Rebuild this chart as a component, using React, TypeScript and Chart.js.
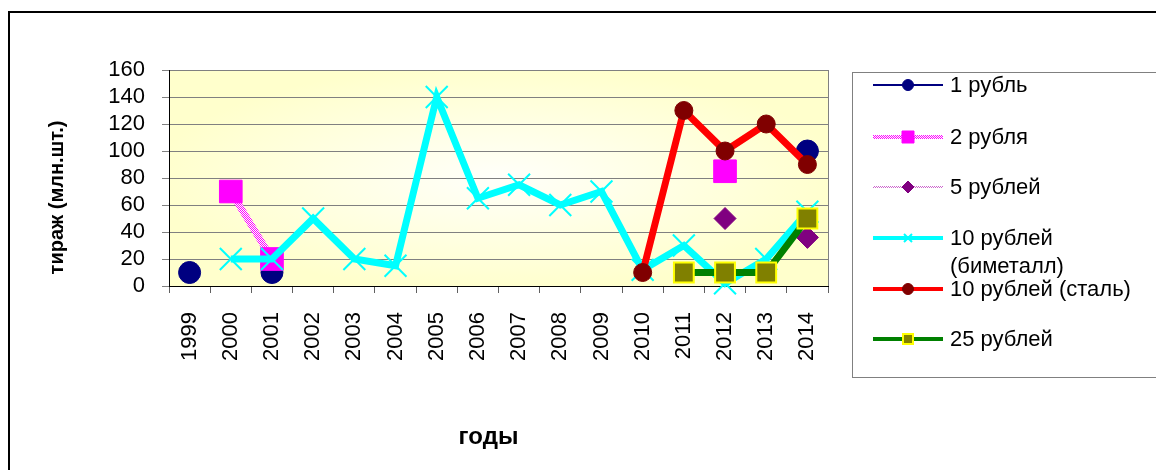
import React, { useEffect, useRef } from 'react';
import { Chart, registerables } from 'chart.js';

Chart.register(...registerables);

// ---------- data ----------
const years = ['1999', '2000', '2001', '2002', '2003', '2004', '2005', '2006', '2007', '2008', '2009', '2010', '2011', '2012', '2013', '2014'];
const rub1 = [10, null, 10, null, null, null, null, null, null, null, null, null, null, null, null, 100];
const rub2 = [null, 70, 20, null, null, null, null, null, null, null, null, null, null, 85, null, null];
const rub5 = [null, null, null, null, null, null, null, null, null, null, null, null, null, 50, null, 36];
const rub10bi = [null, 20, 20, 50, 20, 15, 140, 65, 75, 60, 70, 12, 30, 2, 20, 55];
const rub10st = [null, null, null, null, null, null, null, null, null, null, null, 10, 130, 100, 120, 90];
const rub25 = [null, null, null, null, null, null, null, null, null, null, null, null, 10, 10, 10, 50];
const seriesNames = ['1 рубль', '2 рубля', '5 рублей', '10 рублей (биметалл)', '10 рублей (сталь)', '25 рублей'];
const legendLines = [['1 рубль'], ['2 рубля'], ['5 рублей'], ['10 рублей', '(биметалл)'], ['10 рублей (сталь)'], ['25 рублей']];
const yMin = 0;
const yMax = 160;
const yStep = 20;
const xTitle = 'годы';
const yTitle = 'тираж (млн.шт.)';

const FONT = "'Liberation Sans', Arial, sans-serif";

function makePattern(a: string, b: string) {
  const c = document.createElement('canvas');
  c.width = 2;
  c.height = 2;
  const g = c.getContext('2d')!;
  g.fillStyle = a;
  g.fillRect(0, 0, 2, 2);
  g.fillStyle = b;
  g.fillRect(0, 0, 1, 1);
  g.fillRect(1, 1, 1, 1);
  return g.createPattern(c, 'repeat')!;
}

function drawMarker(ctx: CanvasRenderingContext2D, style: string, x: number, y: number, r: number, fill: string, stroke: string, lw: number) {
  ctx.save();
  ctx.fillStyle = fill;
  ctx.strokeStyle = stroke;
  ctx.lineWidth = lw;
  ctx.beginPath();
  if (style === 'circle') {
    ctx.arc(x, y, r, 0, Math.PI * 2);
    ctx.fill();
    ctx.stroke();
  } else if (style === 'rect') {
    ctx.rect(x - r, y - r, 2 * r, 2 * r);
    ctx.fill();
    ctx.stroke();
  } else if (style === 'rectRot') {
    ctx.moveTo(x - r, y);
    ctx.lineTo(x, y - r);
    ctx.lineTo(x + r, y);
    ctx.lineTo(x, y + r);
    ctx.closePath();
    ctx.fill();
    ctx.stroke();
  } else if (style === 'crossRot') {
    ctx.moveTo(x - r, y - r);
    ctx.lineTo(x + r, y + r);
    ctx.moveTo(x + r, y - r);
    ctx.lineTo(x - r, y + r);
    ctx.stroke();
  }
  ctx.restore();
}

export default function App() {
  const ref = useRef<HTMLCanvasElement>(null);

  useEffect(() => {
    const pinkPattern = makePattern('#FFFFFF', '#FF00FF');
    const purplePattern = makePattern('#FFFFFF', '#CC66CC');

    const legendStyle = [
      { line: '#000080', lw: 2, marker: 'circle', r: 5.5, fill: '#000080', stroke: '#000080', mlw: 1 },
      { line: pinkPattern as any, lw: 4, marker: 'rect', r: 6, fill: '#FF00FF', stroke: '#FF00FF', mlw: 1 },
      { line: purplePattern as any, lw: 2, marker: 'rectRot', r: 6, fill: '#800080', stroke: '#800080', mlw: 1 },
      { line: '#00FFFF', lw: 4, marker: 'crossRot', r: 4, fill: '#00FFFF', stroke: '#00FFFF', mlw: 2 },
      { line: '#FF0000', lw: 4, marker: 'circle', r: 5.5, fill: '#800000', stroke: '#800000', mlw: 1 },
      { line: '#008000', lw: 4, marker: 'rect', r: 5, fill: '#808000', stroke: '#FFFF00', mlw: 2 },
    ];

    const bgPlugin = {
      id: 'bg',
      beforeDraw(chart: any) {
        const { ctx, chartArea: a } = chart;
        ctx.save();
        ctx.fillStyle = '#FFFFFF';
        ctx.fillRect(0, 0, chart.width, chart.height);
        ctx.strokeStyle = '#000000';
        ctx.lineWidth = 2;
        ctx.strokeRect(9, 12, chart.width + 20, chart.height + 20);
        // plot area gradient
        const cx = (a.left + a.right) / 2;
        const cy = (a.top + a.bottom) / 2;
        ctx.translate(cx, cy);
        ctx.scale((a.right - a.left) / 2, (a.bottom - a.top) / 2);
        const g = ctx.createRadialGradient(0, 0, 0, 0, 0, 1.05);
        g.addColorStop(0, '#FFFFFA');
        g.addColorStop(1, '#FFFFCC');
        ctx.fillStyle = g;
        ctx.fillRect(-1, -1, 2, 2);
        ctx.restore();
      },
      beforeDatasetsDraw(chart: any) {
        const { ctx, chartArea: a } = chart;
        ctx.save();
        ctx.strokeStyle = '#808080';
        ctx.lineWidth = 1;
        ctx.beginPath();
        ctx.moveTo(Math.round(a.right) + 0.5, a.top);
        ctx.lineTo(Math.round(a.right) + 0.5, a.bottom);
        ctx.stroke();
        ctx.restore();
      },
      afterDraw(chart: any) {
        const { ctx } = chart;
        ctx.save();
        ctx.fillStyle = '#FFFFFF';
        ctx.strokeStyle = '#808080';
        ctx.lineWidth = 1;
        ctx.fillRect(852.5, 72.5, 400, 305);
        ctx.strokeRect(852.5, 72.5, 400, 305);
        const rows = [85, 137, 187, 238, 289, 339];
        ctx.font = `22px ${FONT}`;
        ctx.textBaseline = 'middle';
        ctx.textAlign = 'left';
        legendLines.forEach((lines, i) => {
          const s = legendStyle[i];
          const y = rows[i];
          ctx.strokeStyle = s.line;
          ctx.lineWidth = s.lw;
          ctx.beginPath();
          ctx.moveTo(873, y);
          ctx.lineTo(943, y);
          ctx.stroke();
          drawMarker(ctx, s.marker, 908, y, s.r, s.fill, s.stroke, s.mlw);
          ctx.fillStyle = '#000000';
          lines.forEach((t, j) => ctx.fillText(t, 950, y + 1 + j * 28));
        });
        ctx.restore();
      },
    };

    const chart = new Chart(ref.current!, {
      type: 'line',
      data: {
        labels: years,
        datasets: [
          {
            label: seriesNames[0], data: rub1, order: 6, clip: false as any,
            borderColor: '#000080', borderWidth: 2, pointStyle: 'circle', pointRadius: 11,
            pointBackgroundColor: '#000080', pointBorderColor: '#000080', pointBorderWidth: 1,
          },
          {
            label: seriesNames[1], data: rub2, order: 5, clip: false as any,
            borderColor: pinkPattern as any, borderWidth: 7, pointStyle: 'rect', pointRadius: 16,
            pointBackgroundColor: '#FF00FF', pointBorderColor: '#FF00FF', pointBorderWidth: 1,
          },
          {
            label: seriesNames[2], data: rub5, order: 4, clip: false as any,
            borderColor: purplePattern as any, borderWidth: 2, pointStyle: 'rectRot', pointRadius: 11,
            pointBackgroundColor: '#800080', pointBorderColor: '#800080', pointBorderWidth: 1,
          },
          {
            label: seriesNames[3], data: rub10bi, order: 3, clip: false as any,
            borderColor: '#00FFFF', borderWidth: 7, pointStyle: 'crossRot', pointRadius: 15.5,
            pointBackgroundColor: '#00FFFF', pointBorderColor: '#00FFFF', pointBorderWidth: 2,
          },
          {
            label: seriesNames[4], data: rub10st, order: 2, clip: false as any,
            borderColor: '#FF0000', borderWidth: 7, pointStyle: 'circle', pointRadius: 9,
            pointBackgroundColor: '#800000', pointBorderColor: '#800000', pointBorderWidth: 1,
          },
          {
            label: seriesNames[5], data: rub25, order: 1, clip: false as any,
            borderColor: '#008000', borderWidth: 7, pointStyle: 'rect', pointRadius: 14,
            pointBackgroundColor: '#808000', pointBorderColor: '#FFFF00', pointBorderWidth: 2,
          },
        ],
      },
      options: {
        responsive: false,
        animation: false,
        devicePixelRatio: 1,
        spanGaps: false,
        layout: { padding: { top: 70, right: 328, left: 0, bottom: 0 } },
        plugins: { legend: { display: false }, tooltip: { enabled: false } },
        elements: { line: { tension: 0, borderCapStyle: 'butt', borderJoinStyle: 'miter' } },
        scales: {
          x: {
            type: 'category',
            offset: true,
            grid: { display: true, drawOnChartArea: false, drawTicks: true, tickLength: 7, offset: true, color: '#606060' },
            border: { display: true, color: '#000000', width: 1 },
            ticks: { autoSkip: false, minRotation: 90, maxRotation: 90, padding: 19, color: '#000000', font: { family: FONT, size: 22 } },
            title: { display: true, text: xTitle + '\u00A0\u00A0\u00A0', color: '#000000', font: { family: FONT, size: 24, weight: 'bold' }, padding: { top: 0, bottom: 18 } },
            afterFit: (s: any) => { s.height = 184; },
          },
          y: {
            min: yMin,
            max: yMax,
            grid: { color: '#808080', lineWidth: 1, tickLength: 7, tickColor: '#808080' },
            border: { display: true, color: '#000000', width: 1 },
            ticks: { stepSize: yStep, autoSkip: false, padding: 17, color: '#000000', font: { family: FONT, size: 22 } },
            title: { display: true, text: yTitle + '\u00A0\u00A0\u00A0\u00A0\u00A0\u00A0\u00A0', color: '#000000', font: { family: FONT, size: 20, weight: 'bold' }, padding: { top: 45, bottom: 0 } },
            afterFit: (s: any) => { s.width = 169; },
          },
        },
      },
      plugins: [bgPlugin],
    } as any);
    return () => chart.destroy();
  }, []);

  return (
    <canvas
      ref={ref}
      width={1156}
      height={470}
      style={{ position: 'fixed', left: 0, top: 0, width: 1156, height: 470 }}
    />
  );
}
